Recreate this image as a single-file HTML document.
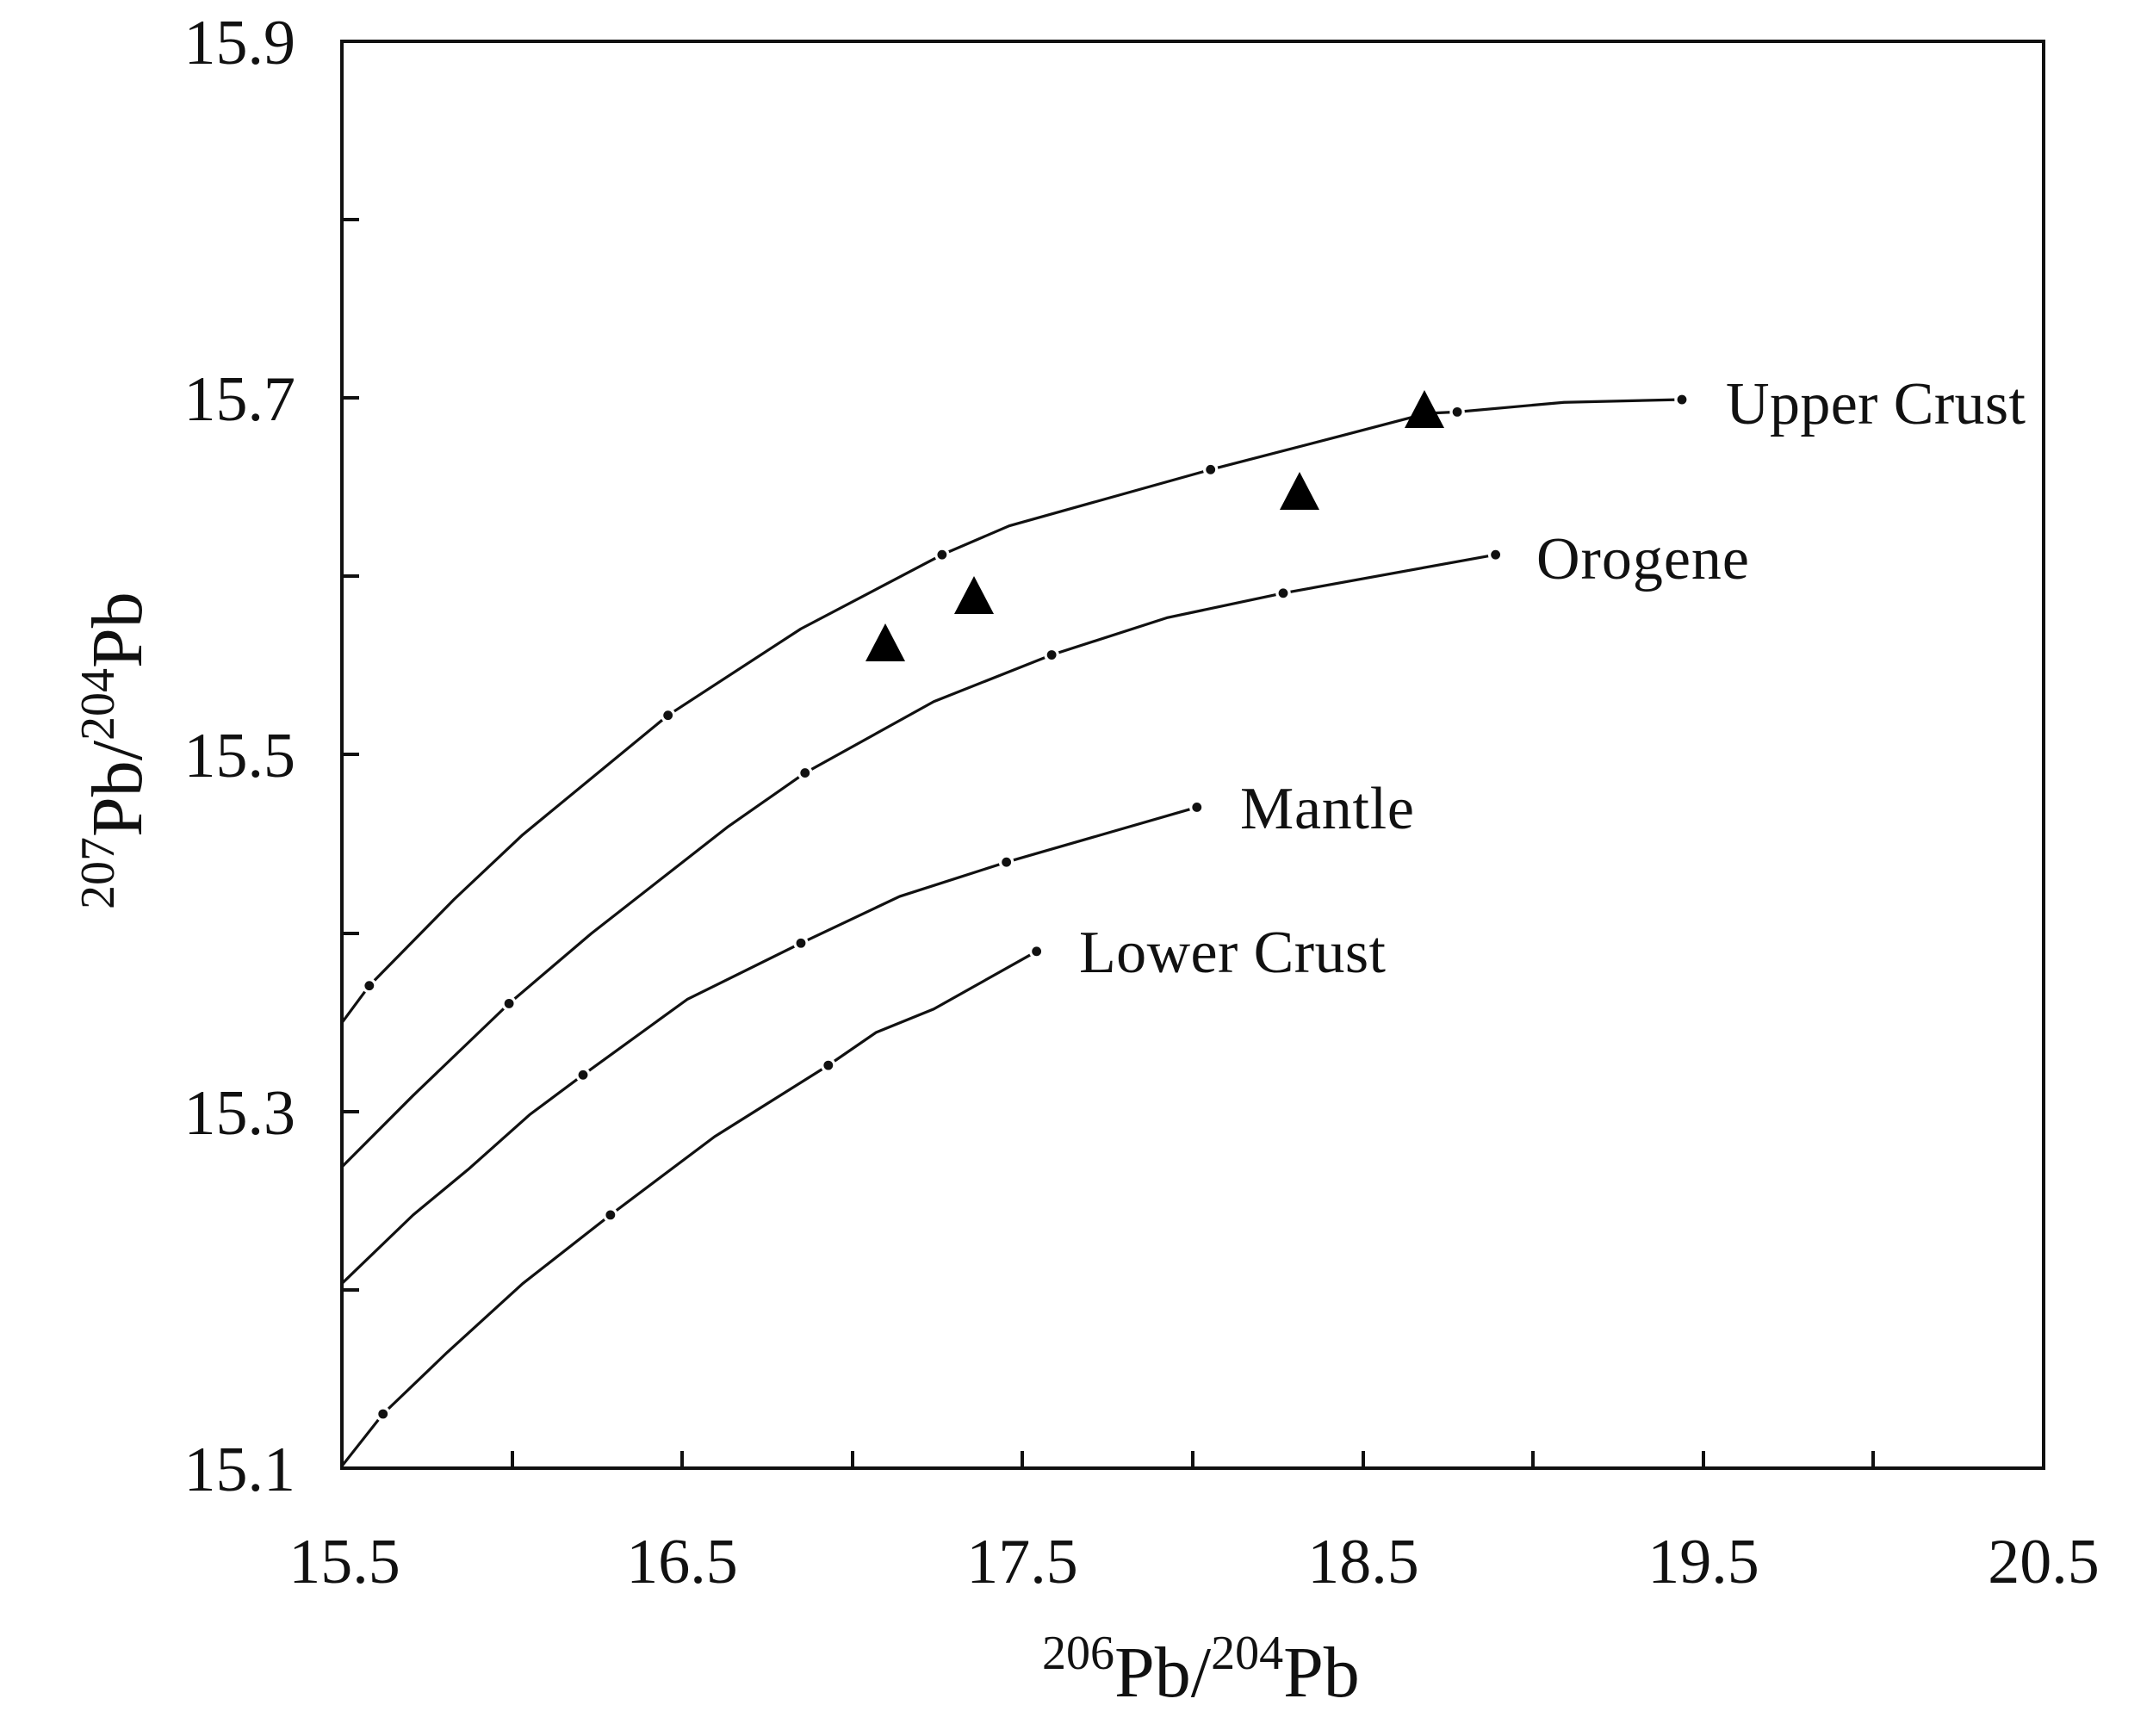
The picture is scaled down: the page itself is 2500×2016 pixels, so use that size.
<!DOCTYPE html>
<html><head><meta charset="utf-8"><style>
html,body{margin:0;padding:0;background:#fff;}
svg{display:block;font-family:"Liberation Serif","Times New Roman",serif;}
</style></head><body>
<svg width="2500" height="2016" viewBox="0 0 2500 2016" xmlns="http://www.w3.org/2000/svg">
<rect width="2500" height="2016" fill="#fff"/>
<rect x="397" y="48" width="1976" height="1657" fill="none" stroke="#111" stroke-width="4"/>
<g stroke="#111" stroke-width="4">
<line x1="397" y1="255" x2="417" y2="255"/><line x1="397" y1="462" x2="417" y2="462"/>
<line x1="397" y1="669" x2="417" y2="669"/><line x1="397" y1="876" x2="417" y2="876"/>
<line x1="397" y1="1084" x2="417" y2="1084"/><line x1="397" y1="1291" x2="417" y2="1291"/>
<line x1="397" y1="1498" x2="417" y2="1498"/>
<line x1="595" y1="1705" x2="595" y2="1685"/><line x1="792" y1="1705" x2="792" y2="1685"/>
<line x1="990" y1="1705" x2="990" y2="1685"/><line x1="1187" y1="1705" x2="1187" y2="1685"/>
<line x1="1385" y1="1705" x2="1385" y2="1685"/><line x1="1583" y1="1705" x2="1583" y2="1685"/>
<line x1="1780" y1="1705" x2="1780" y2="1685"/><line x1="1978" y1="1705" x2="1978" y2="1685"/>
<line x1="2175" y1="1705" x2="2175" y2="1685"/>
</g>
<g font-size="74" fill="#111" text-anchor="end">
<text x="343" y="74">15.9</text>
<text x="343" y="488">15.7</text>
<text x="343" y="902">15.5</text>
<text x="343" y="1317">15.3</text>
<text x="343" y="1731">15.1</text>
</g>
<g font-size="74" fill="#111" text-anchor="middle">
<text x="400" y="1838">15.5</text>
<text x="792" y="1838">16.5</text>
<text x="1187" y="1838">17.5</text>
<text x="1583" y="1838">18.5</text>
<text x="1978" y="1838">19.5</text>
<text x="2373" y="1838">20.5</text>
</g>
<text x="1210" y="1970" font-size="84" fill="#111"><tspan font-size="56" dy="-32">206</tspan><tspan dy="32">Pb/</tspan><tspan font-size="56" dy="-32">204</tspan><tspan dy="32">Pb</tspan></text>
<text transform="translate(164,1056) rotate(-90)" font-size="84" fill="#111"><tspan font-size="56" dy="-32">207</tspan><tspan dy="32">Pb/</tspan><tspan font-size="56" dy="-32">204</tspan><tspan dy="32">Pb</tspan></text>
<g transform="matrix(1.591,0,0,1.594,2.43,0.18)" fill="none" stroke="#111" stroke-width="3.2" stroke-linejoin="round">
<polyline vector-effect="non-scaling-stroke" points="248,745 268,718 330,655 380,608 486,521 583,458 686,404 735,383 882,342 975,318 1040,301 1062,300 1140,293 1226,291"/>
<polyline vector-effect="non-scaling-stroke" points="248,850 300,798 370,731 430,680 530,602 586,563 680,511 766,477 850,450 935,432 1090,404"/>
<polyline vector-effect="non-scaling-stroke" points="248,935 300,885 340,852 385,812 424,783 500,728 583,687 655,653 733,628 872,588"/>
<polyline vector-effect="non-scaling-stroke" points="248,1068 278,1030 325,985 380,935 444,885 520,828 603,776 638,752 680,735 755,693"/>
</g>
<g transform="matrix(1.591,0,0,1.594,2.43,0.18)">
<g fill="#fff">
<circle cx="268" cy="718" r="5.5"/><circle cx="486" cy="521" r="5.5"/><circle cx="686" cy="404" r="5.5"/><circle cx="882" cy="342" r="5.5"/><circle cx="1062" cy="300" r="5.5"/><circle cx="1226" cy="291" r="5.5"/>
<circle cx="370" cy="731" r="5.5"/><circle cx="586" cy="563" r="5.5"/><circle cx="766" cy="477" r="5.5"/><circle cx="935" cy="432" r="5.5"/><circle cx="1090" cy="404" r="5.5"/>
<circle cx="424" cy="783" r="5.5"/><circle cx="583" cy="687" r="5.5"/><circle cx="733" cy="628" r="5.5"/><circle cx="872" cy="588" r="5.5"/>
<circle cx="278" cy="1030" r="5.5"/><circle cx="444" cy="885" r="5.5"/><circle cx="603" cy="776" r="5.5"/><circle cx="755" cy="693" r="5.5"/>
</g>
<g fill="#111">
<circle cx="268" cy="718" r="3.4"/><circle cx="486" cy="521" r="3.4"/><circle cx="686" cy="404" r="3.4"/><circle cx="882" cy="342" r="3.4"/><circle cx="1062" cy="300" r="3.4"/><circle cx="1226" cy="291" r="3.4"/>
<circle cx="370" cy="731" r="3.4"/><circle cx="586" cy="563" r="3.4"/><circle cx="766" cy="477" r="3.4"/><circle cx="935" cy="432" r="3.4"/><circle cx="1090" cy="404" r="3.4"/>
<circle cx="424" cy="783" r="3.4"/><circle cx="583" cy="687" r="3.4"/><circle cx="733" cy="628" r="3.4"/><circle cx="872" cy="588" r="3.4"/>
<circle cx="278" cy="1030" r="3.4"/><circle cx="444" cy="885" r="3.4"/><circle cx="603" cy="776" r="3.4"/><circle cx="755" cy="693" r="3.4"/>
</g>
</g>
<g fill="#000">
<polygon points="1028,724 1005,768 1051,768"/>
<polygon points="1131,669 1108,713 1154,713"/>
<polygon points="1509,548 1486,592 1532,592"/>
<polygon points="1654,453 1631,497 1677,497"/>
</g>
<g font-size="70" fill="#111">
<text x="2004" y="492" textLength="348">Upper Crust</text>
<text x="1784" y="672" textLength="247">Orogene</text>
<text x="1440" y="962" textLength="202">Mantle</text>
<text x="1253" y="1129" textLength="356">Lower Crust</text>
</g>
</svg>
</body></html>
